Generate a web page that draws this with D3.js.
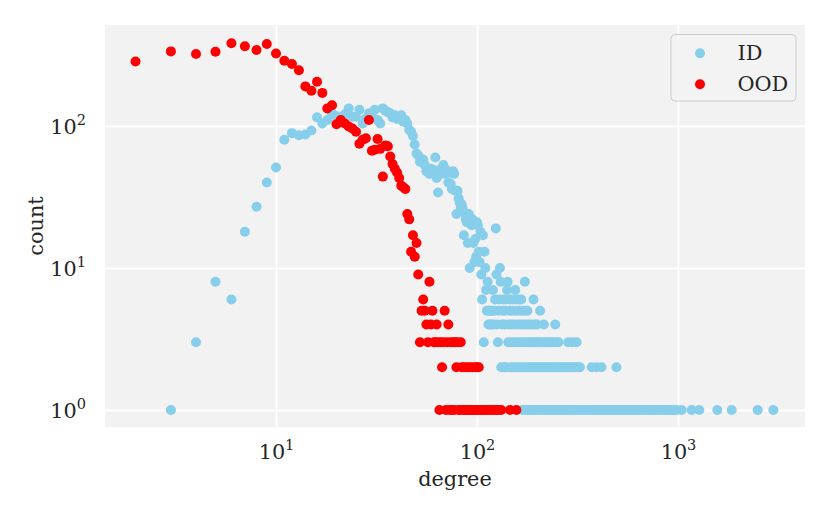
<!DOCTYPE html>
<html><head><meta charset="utf-8">
<script src="https://cdn.jsdelivr.net/npm/d3@7/dist/d3.min.js"></script>
<style>body{margin:0;background:#fff}text{font-family:"DejaVu Serif",serif;fill:#262626}</style>
</head><body><svg id="chart" width="830" height="519"></svg>
<script>
// ---- data: [degree, count] ----
const oodPoints = [[2,284],[3,335],[4,321],[5,333],[6,382],[7,364],[8,343],[9,378],[10,324],[11,288],[12,273],[13,247],[14,190],[15,177],[16,205],[17,171],[18,133],[19,140],[20,103],[21,110],[22,104],[23,99],[24,96],[25,91],[26,75],[27,80],[28,82],[29,110],[30,67],[31,68],[32,81],[33,69],[34,44],[35,73],[36,72],[37,61],[38,54],[39,50],[40,47],[41,43],[42,38],[43,37],[44,36],[45,24],[46,22],[47,13],[48,17],[49,12],[50,15],[51,9],[52,3],[53,5],[54,6],[55,5],[56,4],[57,3],[58,8],[59,4],[60,5],[61,3],[62,3],[63,4],[64,3],[65,1],[66,3],[67,2],[68,3],[69,5],[70,1],[71,3],[72,4],[73,1],[74,3],[75,1],[76,3],[77,1],[78,3],[79,2],[80,3],[81,1],[82,1],[83,3],[84,2],[85,1],[86,2],[87,1],[88,1],[89,2],[90,1],[91,1],[92,2],[93,1],[94,1],[95,2],[96,1],[97,1],[98,2],[99,1],[100,2],[101,1],[102,2],[104,1],[106,1],[108,1],[110,1],[113,1],[116,1],[119,1],[122,1],[125,1],[128,1],[132,1],[146,1],[157,1]];

const idPoints = [[3,1],[4,3],[5,8],[6,6],[7,18],[8,27],[9,40],[10,51],[11,80],[12,89],[13,86],[14,87],[15,93],[16,115],[17,104],[18,110],[19,123],[20,117],[21,112],[22,121],[23,133],[24,116],[25,116],[26,130],[27,104],[28,113],[29,123],[30,118],[31,130],[32,110],[33,104],[34,133],[35,128],[36,125],[37,123],[38,115],[39,119],[40,112],[41,116],[42,119],[43,107],[44,110],[45,104],[46,94],[47,91],[48,85],[49,74],[50,64],[51,62],[52,56],[53,57],[54,58],[55,53],[56,48],[57,48],[58,46],[59,50],[60,47],[61,49],[62,60],[63,43],[64,34],[65,49],[66,47],[67,50],[68,53],[69,46],[70,49],[71,48],[72,40],[73,47],[74,39],[75,36],[76,48],[77,46],[78,35],[79,24],[80,35],[81,31],[82,29],[83,27],[84,28],[85,26],[86,17],[87,24],[88,22],[89,21],[90,15],[91,24],[92,10],[93,21],[94,20],[95,22],[96,15],[97,11],[98,16],[99,12],[100,21],[101,20],[102,13],[103,11],[104,18],[105,9],[106,6],[107,17],[108,3],[109,13],[110,10],[111,7],[112,5],[113,8],[114,4],[115,5],[116,4],[117,5],[118,4],[119,5],[120,7],[121,4],[122,5],[123,6],[124,19],[125,9],[126,4],[127,3],[128,5],[129,6],[130,10],[131,8],[132,2],[133,4],[134,5],[135,6],[136,2],[137,4],[138,5],[139,6],[140,2],[141,7],[142,8],[143,3],[144,4],[145,5],[146,6],[147,2],[148,3],[149,4],[150,5],[151,6],[152,2],[153,3],[154,4],[155,7],[156,5],[157,6],[158,2],[159,3],[160,4],[161,5],[162,6],[163,2],[164,3],[165,4],[166,6],[167,5],[168,1],[169,2],[170,3],[171,4],[172,5],[173,8],[174,1],[175,2],[176,3],[177,4],[178,5],[179,1],[180,2],[181,3],[182,4],[184,1],[185,2],[186,3],[188,4],[189,1],[190,2],[191,6],[192,3],[193,1],[194,4],[195,2],[196,3],[197,1],[198,2],[199,4],[200,3],[201,1],[203,2],[204,3],[206,5],[207,1],[209,2],[211,3],[212,1],[214,2],[215,4],[217,3],[218,1],[220,2],[222,3],[224,1],[226,2],[228,3],[230,1],[232,2],[234,3],[236,1],[238,2],[240,3],[242,1],[245,4],[246,2],[248,3],[249,1],[252,2],[254,3],[255,1],[258,2],[261,1],[265,2],[268,1],[272,2],[275,1],[279,2],[282,1],[284,3],[286,2],[289,1],[293,2],[297,1],[298,3],[301,2],[305,1],[309,2],[313,3],[314,1],[318,2],[321,1],[325,2],[329,1],[337,1],[345,1],[353,1],[362,1],[371,1],[372,2],[380,1],[390,1],[393,2],[400,1],[410,1],[416,2],[420,1],[430,1],[441,1],[452,1],[463,1],[475,1],[487,1],[494,2],[500,1],[512,1],[525,1],[539,1],[552,1],[566,1],[580,1],[595,1],[610,1],[626,1],[642,1],[658,1],[675,1],[692,1],[710,1],[728,1],[747,1],[766,1],[786,1],[806,1],[826,1],[848,1],[870,1],[892,1],[915,1],[938,1],[962,1],[985,1],[1043,1],[1169,1],[1276,1],[1569,1],[1849,1],[2492,1],[2980,1]];

const xTickValues = [10, 100, 1000];
const yTickValues = [1, 10, 100];
const seriesNames = ["ID", "OOD"];
const seriesColors = ["#87ceeb", "#ff0000"];
const xLabel = "degree";
const yLabel = "count";

// ---- layout ----
const m = {left: 105, top: 25, right: 805, bottom: 427};
const FS = 20.8;

const svg = d3.select("#chart");
const x = d3.scaleLog().domain([1.41, 4283]).range([m.left, m.right]);
const y = d3.scaleLog().domain([0.759, 514]).range([m.bottom, m.top]);

svg.append("rect").attr("x", m.left).attr("y", m.top)
  .attr("width", m.right - m.left).attr("height", m.bottom - m.top)
  .attr("fill", "#f2f2f2");

const exp = v => String(Math.round(Math.log10(v)));

// x axis + grid
const gx = svg.append("g").attr("transform", `translate(0,${m.bottom})`)
  .call(d3.axisBottom(x).tickValues(xTickValues).tickSize(-(m.bottom - m.top)).tickFormat(() => ""));
gx.select(".domain").remove();
gx.selectAll(".tick line").attr("stroke", "#ffffff").attr("stroke-width", 1.8);
gx.selectAll(".tick text").each(function(d) {
  const t = d3.select(this).attr("y", 31.5).attr("dy", 0).attr("text-anchor", "middle")
    .attr("font-size", FS).attr("fill", "#262626");
  t.text(null);
  t.append("tspan").text("10");
  t.append("tspan").attr("dy", -8.5).attr("font-size", FS * 0.7).text(exp(d));
});

// y axis + grid
const gy = svg.append("g").attr("transform", `translate(${m.left},0)`)
  .call(d3.axisLeft(y).tickValues(yTickValues).tickSize(-(m.right - m.left)).tickFormat(() => ""));
gy.select(".domain").remove();
gy.selectAll(".tick line").attr("stroke", "#ffffff").attr("stroke-width", 1.8);
gy.selectAll(".tick text").each(function(d) {
  const t = d3.select(this).attr("x", -19).attr("dy", 7.5).attr("text-anchor", "end")
    .attr("font-size", FS).attr("fill", "#262626");
  t.text(null);
  t.append("tspan").text("10");
  t.append("tspan").attr("dy", -8.5).attr("font-size", FS * 0.7).text(exp(d));
});

// points
const r = 5;
[idPoints, oodPoints].forEach((pts, i) => {
  svg.append("g").selectAll("circle").data(pts).join("circle")
    .attr("cx", d => x(d[0])).attr("cy", d => y(d[1])).attr("r", r)
    .attr("fill", seriesColors[i]);
});

// axis labels
svg.append("text").attr("x", (m.left + m.right) / 2).attr("y", 486)
  .attr("text-anchor", "middle").attr("font-size", FS).text(xLabel);
svg.append("text").attr("transform", `translate(43,${(m.top + m.bottom) / 2}) rotate(-90)`)
  .attr("text-anchor", "middle").attr("font-size", FS).text(yLabel);

// legend
const lg = svg.append("g");
lg.append("rect").attr("x", 671).attr("y", 34.5).attr("width", 125).attr("height", 66.5)
  .attr("rx", 4).attr("fill", "#f2f2f2").attr("fill-opacity", 0.8)
  .attr("stroke", "#cccccc").attr("stroke-width", 1);
seriesNames.forEach((name, i) => {
  const cy = 53.3 + i * 31;
  lg.append("circle").attr("cx", 700).attr("cy", cy).attr("r", r).attr("fill", seriesColors[i]);
  lg.append("text").attr("x", 737.5).attr("y", cy + 6.5).attr("font-size", FS).text(name);
});
</script>
</body></html>
